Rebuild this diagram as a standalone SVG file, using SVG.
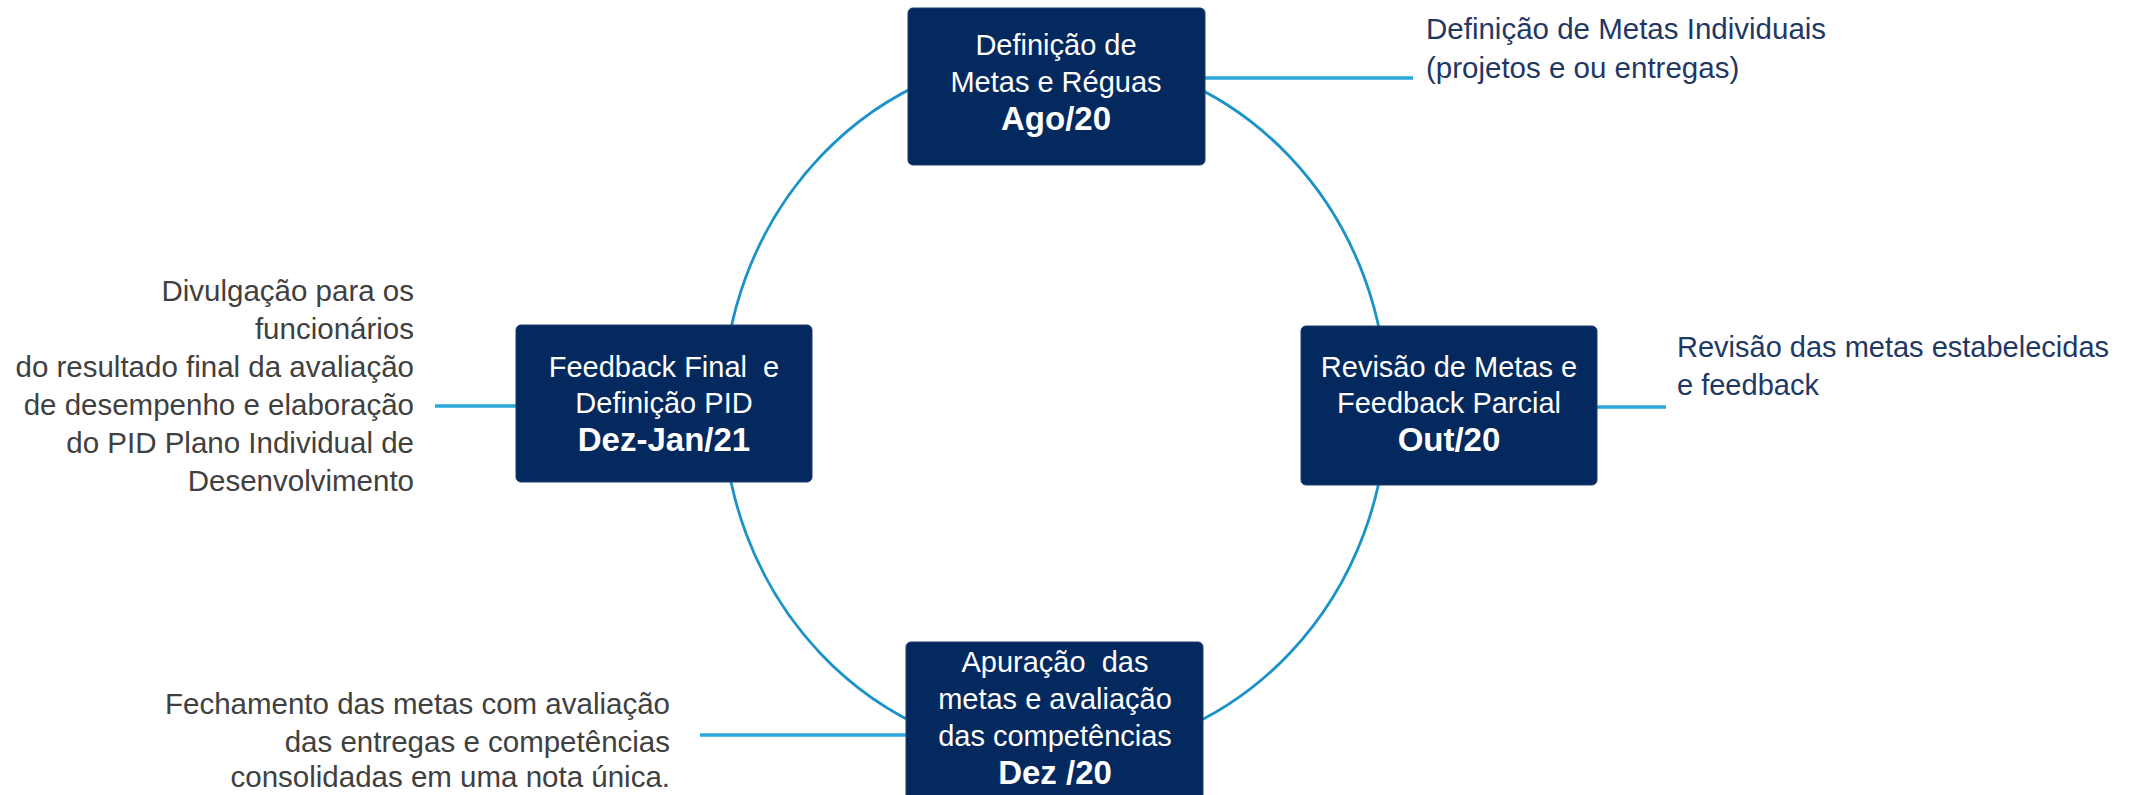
<svg xmlns="http://www.w3.org/2000/svg" width="2130" height="795" viewBox="0 0 2130 795">
<style>
.box{fill:#04295e;stroke:#1c3d6e;stroke-width:1}
.bt{font-family:"Liberation Sans",Arial,sans-serif;font-size:29px;fill:#ffffff;text-anchor:middle;white-space:pre}
.bb{font-weight:bold;font-size:33px}
.an{font-family:"Liberation Sans",Arial,sans-serif;font-size:29.5px}
.nv{fill:#1f3864}
.gr{fill:#404040;text-anchor:end}
.arc{fill:none;stroke:#1b93c9;stroke-width:2.8}
.ln{stroke:#2aa8dc;stroke-width:3.5;fill:none}
</style>
<rect width="2130" height="795" fill="#ffffff"/>
<g id="connectors">
<ellipse class="arc" cx="1055" cy="405" rx="332" ry="351"/>
<line class="ln" x1="1205" y1="78" x2="1413" y2="78"/>
<line class="ln" x1="1597" y1="407" x2="1666" y2="407"/>
<line class="ln" x1="435" y1="406" x2="516" y2="406"/>
<line class="ln" x1="700" y1="735" x2="906" y2="735"/>
</g>
<g id="node-top">
<rect class="box" x="908" y="8" width="297" height="157" rx="5"/>
<text class="bt" x="1056" y="55">Definição de</text>
<text class="bt" x="1056" y="92">Metas e Réguas</text>
<text class="bt bb" x="1056" y="130">Ago/20</text>
</g>
<g id="node-right">
<rect class="box" x="1301" y="326" width="296" height="159" rx="5"/>
<text class="bt" x="1449" y="377">Revisão de Metas e</text>
<text class="bt" x="1449" y="413">Feedback Parcial</text>
<text class="bt bb" x="1449" y="451">Out/20</text>
</g>
<g id="node-left">
<rect class="box" x="516" y="325" width="296" height="157" rx="5"/>
<text class="bt" x="664" y="377" xml:space="preserve">Feedback Final  e</text>
<text class="bt" x="664" y="413">Definição PID</text>
<text class="bt bb" x="664" y="451">Dez-Jan/21</text>
</g>
<g id="node-bottom">
<rect class="box" x="906" y="642" width="297" height="165" rx="5"/>
<text class="bt" x="1055" y="672" xml:space="preserve">Apuração  das</text>
<text class="bt" x="1055" y="709">metas e avaliação</text>
<text class="bt" x="1055" y="746">das competências</text>
<text class="bt bb" x="1055" y="784">Dez /20</text>
</g>
<g id="note-top">
<text class="an nv" x="1426" y="39">Definição de Metas Individuais</text>
<text class="an nv" x="1426" y="78">(projetos e ou entregas)</text>
</g>
<g id="note-right">
<text class="an nv" x="1677" y="357" style="font-size:29px">Revisão das metas estabelecidas</text>
<text class="an nv" x="1677" y="395" style="font-size:29px">e feedback</text>
</g>
<g id="note-left">
<text class="an gr" x="414" y="301">Divulgação para os</text>
<text class="an gr" x="414" y="339">funcionários</text>
<text class="an gr" x="414" y="377">do resultado final da avaliação</text>
<text class="an gr" x="414" y="415">de desempenho e elaboração</text>
<text class="an gr" x="414" y="453">do PID Plano Individual de</text>
<text class="an gr" x="414" y="491">Desenvolvimento</text>
</g>
<g id="note-bottom">
<text class="an gr" x="670" y="714">Fechamento das metas com avaliação</text>
<text class="an gr" x="670" y="752">das entregas e competências</text>
<text class="an gr" x="670" y="787">consolidadas em uma nota única.</text>
</g>
</svg>
